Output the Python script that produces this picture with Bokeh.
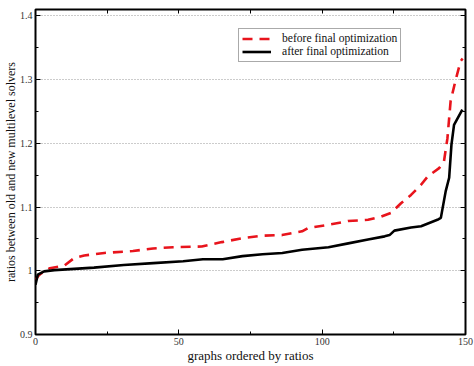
from bokeh.plotting import figure
from bokeh.models import (FixedTicker, LinearAxis, Legend, LegendItem, Range1d)
from bokeh.embed import file_html
from bokeh.resources import INLINE

# ---- data ----
before_x = [0, 1, 2, 5, 10, 13.5, 17, 24, 34, 41, 48, 58, 65, 72, 79, 86, 93, 95,
            102, 109, 116, 120.6, 124.1, 125.2, 127.5, 131, 134.5, 136.8, 140.8,
            142.5, 143.7, 144.8, 146.6, 148.3, 149]
before_y = [0.986, 0.992, 0.996, 1.004, 1.008, 1.020, 1.024, 1.028, 1.031, 1.035,
            1.037, 1.038, 1.045, 1.051, 1.055, 1.056, 1.062, 1.067, 1.072, 1.078,
            1.080, 1.085, 1.091, 1.096, 1.106, 1.119, 1.135, 1.148, 1.161, 1.172,
            1.208, 1.266, 1.300, 1.329, 1.333]

after_x = [0, 0.8, 3, 6.6, 13.5, 20.4, 30.8, 41.1, 51.5, 58.4, 65.3, 72.2, 79.2,
           86.1, 93, 102.2, 109.1, 116, 121.8, 123.5, 125.2, 131, 134.5, 140.2,
           141.4, 143.1, 144.3, 145.1, 146, 148.9]
after_y = [0.978, 0.994, 0.999, 1.001, 1.003, 1.005, 1.009, 1.012, 1.015, 1.018,
           1.018, 1.023, 1.026, 1.028, 1.033, 1.037, 1.043, 1.049, 1.054, 1.056,
           1.063, 1.068, 1.070, 1.080, 1.083, 1.125, 1.146, 1.198, 1.229, 1.253]

x_ticks = [0, 50, 100, 150]
x_minor = [25, 75, 125]
y_ticks = [0.9, 1.0, 1.1, 1.2, 1.3, 1.4]
y_tick_labels = ["0.9", "1", "1.1", "1.2", "1.3", "1.4"]
y_minor = [0.95, 1.05, 1.15, 1.25, 1.35]
series_names = ["before final optimization", "after final optimization"]

FONT = "Liberation Serif"

p = figure(frame_width=430, frame_height=325, output_backend="svg",
           toolbar_location=None,
           x_range=Range1d(0, 150), y_range=Range1d(0.9, 1.41),
           min_border_left=0, min_border_right=9, min_border_top=9,
           min_border_bottom=0)
p.background_fill_color = "white"
p.border_fill_color = "white"
p.outline_line_color = "black"
p.outline_line_width = 2

r1 = p.line(before_x, before_y, line_color="#e8141c", line_width=2.6,
            line_dash="10 7")
r2 = p.line(after_x, after_y, line_color="black", line_width=2.6)

xt = FixedTicker(ticks=x_ticks, minor_ticks=x_minor)
yt = FixedTicker(ticks=y_ticks, minor_ticks=y_minor)

for ax in p.xaxis:
    ax.ticker = xt
for ax in p.yaxis:
    ax.ticker = yt
p.yaxis.major_label_overrides = {t: l for t, l in zip(y_ticks, y_tick_labels)}

for ax in list(p.xaxis) + list(p.yaxis):
    ax.axis_line_color = None
    ax.major_tick_in = 5
    ax.major_tick_out = 0
    ax.minor_tick_in = 3
    ax.minor_tick_out = 0
    ax.major_tick_line_width = 1
    ax.minor_tick_line_width = 1
    ax.major_label_text_font = FONT
    ax.major_label_text_font_size = "10px"
    ax.major_label_text_color = "#333333"
    ax.axis_label_text_font = FONT
    ax.axis_label_text_font_style = "normal"
    ax.axis_label_text_color = "#111111"

p.xaxis.axis_label = "graphs ordered by ratios"
p.xaxis.axis_label_text_font_size = "13px"
p.xaxis.major_label_standoff = 3
p.xaxis.axis_label_standoff = 0
p.yaxis.axis_label = "ratios between old and new multilevel solvers"
p.yaxis.axis_label_text_font_size = "12px"
p.yaxis.major_label_standoff = 3
p.yaxis.axis_label_standoff = -1

# mirrored axes (ticks only, labels not drawn)
top = LinearAxis(ticker=FixedTicker(ticks=x_ticks + x_minor), axis_line_color=None,
                 major_tick_in=4, major_tick_out=0, minor_tick_in=0, minor_tick_out=0,
                 major_label_text_color=None, major_label_text_font_size="1px",
                 major_label_standoff=0)
right = LinearAxis(ticker=FixedTicker(ticks=y_ticks, minor_ticks=y_minor),
                   axis_line_color=None,
                   major_tick_in=5, major_tick_out=0, minor_tick_in=3, minor_tick_out=0,
                   major_label_text_color=None, major_label_text_font_size="1px",
                   major_label_standoff=0)
p.add_layout(top, "above")
p.add_layout(right, "right")

p.xgrid.visible = False
p.ygrid.ticker = yt
p.ygrid.grid_line_color = "#999999"
p.ygrid.grid_line_dash = "1 2"
p.ygrid.grid_line_width = 1

legend = Legend(items=[LegendItem(label=series_names[0], renderers=[r1]),
                       LegendItem(label=series_names[1], renderers=[r2])],
                location=(203, 272))
legend.label_text_font = FONT
legend.label_text_font_size = "11.6px"
legend.label_text_color = "#111111"
legend.glyph_width = 29
legend.glyph_height = 13
legend.label_height = 13
legend.label_standoff = 11
legend.padding = 3
legend.spacing = 0
legend.margin = 0
legend.border_line_color = "#555555"
legend.border_line_width = 1
legend.background_fill_alpha = 1
p.add_layout(legend, "center")

open("out.html", "w").write(file_html(p, INLINE))
